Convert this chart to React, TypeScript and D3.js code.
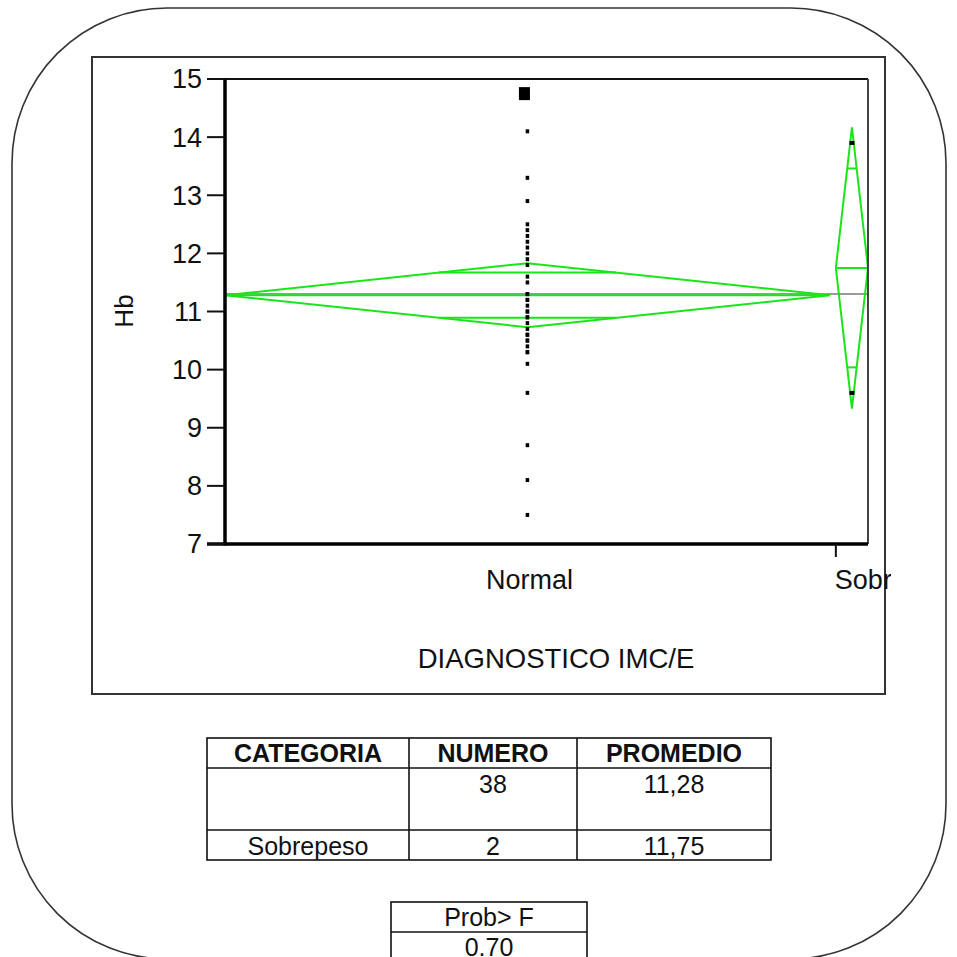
import React from "react";
import * as d3 from "d3";

// Hb by DIAGNOSTICO IMC/E
const categories = ["Normal", "Sobrepeso"];
const counts = [38, 2];
const means = [11.28, 11.75];
const ciLower = [10.73, 9.33];
const ciUpper = [11.83, 14.17];
const grandMean = 11.3;
const hbNormal = [
  14.8, 14.7, 14.1, 13.3, 12.9, 12.5, 12.4, 12.3, 12.2, 12.1, 12.0, 11.9, 11.8,
  11.6, 11.5, 11.3, 11.3, 11.2, 11.2, 11.1, 11.0, 11.0, 10.9, 10.9, 10.8, 10.7,
  10.6, 10.6, 10.5, 10.5, 10.4, 10.3, 10.3, 10.1, 9.6, 8.7, 8.1, 7.5,
];
const hbSobrepeso = [13.9, 9.6];
const yTicks = [7, 8, 9, 10, 11, 12, 13, 14, 15];
const tableHeaders = ["CATEGORIA", "NUMERO", "PROMEDIO"];
const tableCategories = ["", "Sobrepeso"];
const probHeader = "Prob> F";
const probValue = "0.70";

const GREEN = "#19e619";
const FONT = "'Liberation Sans', Arial, sans-serif";

export default function App() {
  const W = 957;
  const H = 957;
  const left = 225;
  const right = 868;
  const top = 79;
  const bottom = 544;

  const y = d3.scaleLinear().domain([7, 15]).range([bottom, top]);
  const total = d3.sum(counts);
  const x = d3.scaleLinear().domain([0, total]).range([left, right]);
  const starts = counts.map((_, i) => d3.sum(counts.slice(0, i)));
  const groups = [hbNormal, hbSobrepeso];
  const maxNormal = d3.max(hbNormal) as number;
  const fmt = (v: number) => v.toFixed(2).replace(".", ",");

  const diamonds = categories.map((c, i) => {
    const x0 = x(starts[i]);
    const x1 = x(starts[i] + counts[i]) - (i === 0 ? 6 : 0);
    const xc = (x0 + x1) / 2;
    const half = (x1 - x0) / 2;
    const m = means[i];
    const hu = ciUpper[i] - m;
    const hl = m - ciLower[i];
    const k = Math.SQRT1_2;
    const path = d3.line()([
      [x0, y(m)],
      [xc, y(ciUpper[i])],
      [x1, y(m)],
      [xc, y(ciLower[i])],
      [x0, y(m)],
    ]) as string;
    const ovU = m + hu * k;
    const ovL = m - hl * k;
    const w = half * (1 - k);
    return { c, i, x0, x1, xc, m, path, ovU, ovL, w };
  });

  // Table geometry
  const tX = [207, 409, 577, 771];
  const tY = [738, 768, 830, 860];

  return (
    <svg
      width={W}
      height={H}
      style={{ position: "absolute", left: 0, top: 0, background: "#fff" }}
      fontFamily={FONT}
    >
      <defs>
        <clipPath id="plotClip">
          <rect x={left} y={top} width={right - left} height={bottom - top} />
        </clipPath>
        <clipPath id="labelClip">
          <rect x={0} y={0} width={891} height={H} />
        </clipPath>
      </defs>
      <rect x={0} y={0} width={W} height={H} fill="#fff" />
      {/* rounded page outline */}
      <rect
        x={12}
        y={8}
        width={934}
        height={951}
        rx={155}
        ry={155}
        fill="none"
        stroke="#333"
        strokeWidth={1.6}
      />
      {/* report frame */}
      <rect x={92} y={57} width={793} height={637} fill="none" stroke="#333" strokeWidth={2} />

      {/* plot */}
      <g clipPath="url(#plotClip)">
        <line x1={left} x2={right} y1={y(grandMean)} y2={y(grandMean)} stroke="#9a9a9a" strokeWidth={2} />
        {diamonds.map((d) => (
          <g key={d.c} fill="none" stroke={GREEN} strokeWidth={2}>
            <path d={d.path} />
            <line x1={d.x0} x2={d.x1} y1={y(d.m)} y2={y(d.m)} />
            <line x1={d.xc - d.w} x2={d.xc + d.w} y1={y(d.ovU)} y2={y(d.ovU)} />
            <line x1={d.xc - d.w} x2={d.xc + d.w} y1={y(d.ovL)} y2={y(d.ovL)} />
          </g>
        ))}
        {groups.map((vals, gi) => {
          const xc = diamonds[gi].xc;
          return vals.map((v, j) => {
            const big = gi === 0 && v === maxNormal;
            const w = big ? 11 : gi === 0 ? 3.5 : 5;
            const h = big ? 13 : 4;
            return (
              <rect
                key={`${gi}-${j}`}
                x={xc - w / 2 - (big ? 3 : 0)}
                y={y(v) - h / 2 + (big ? 3 : 0)}
                width={w}
                height={h}
                fill="#000"
              />
            );
          });
        })}
      </g>

      {/* frame of plot */}
      <line x1={207} x2={right} y1={top} y2={top} stroke="#111" strokeWidth={2} />
      <line x1={right} x2={right} y1={top} y2={bottom} stroke="#444" strokeWidth={2} />
      <line x1={207} x2={right} y1={bottom} y2={bottom} stroke="#000" strokeWidth={3.5} />
      <line x1={left} x2={left} y1={top} y2={bottom + 1.5} stroke="#000" strokeWidth={3.5} />

      {/* y axis */}
      {yTicks.map((t) => (
        <g key={t}>
          <line x1={207} x2={left} y1={y(t)} y2={y(t)} stroke="#111" strokeWidth={2} />
          <text x={202} y={y(t)} dy="0.35em" textAnchor="end" fontSize={27} fill="#111">
            {t}
          </text>
        </g>
      ))}
      <text
        transform={`translate(133,311) rotate(-90)`}
        textAnchor="middle"
        fontSize={26}
        fill="#111"
      >
        Hb
      </text>

      {/* x axis */}
      <line x1={x(starts[1])} x2={x(starts[1])} y1={bottom} y2={bottom + 13} stroke="#111" strokeWidth={2} />
      <text x={diamonds[0].xc + 2} y={589} textAnchor="middle" fontSize={27} fill="#111">
        {categories[0]}
      </text>
      <g clipPath="url(#labelClip)">
        <text x={x(starts[1]) - 1} y={589} textAnchor="start" fontSize={27} fill="#111">
          {categories[1]}
        </text>
      </g>
      <text x={556} y={668} textAnchor="middle" fontSize={27.5} fill="#111">
        DIAGNOSTICO IMC/E
      </text>

      {/* summary table */}
      <g stroke="#111" strokeWidth={1.6} fill="none">
        <rect x={tX[0]} y={tY[0]} width={tX[3] - tX[0]} height={tY[3] - tY[0]} />
        {tY.slice(1, 3).map((v) => (
          <line key={v} x1={tX[0]} x2={tX[3]} y1={v} y2={v} />
        ))}
        {tX.slice(1, 3).map((v) => (
          <line key={v} x1={v} x2={v} y1={tY[0]} y2={tY[3]} />
        ))}
      </g>
      {tableHeaders.map((h, i) => (
        <text
          key={h}
          x={(tX[i] + tX[i + 1]) / 2}
          y={762}
          textAnchor="middle"
          fontSize={25}
          fontWeight="bold"
          fill="#111"
        >
          {h}
        </text>
      ))}
      {categories.map((c, i) => {
        const yy = i === 0 ? 793 : 855;
        return (
          <g key={c} fontSize={25} fill="#111" textAnchor="middle">
            <text x={(tX[0] + tX[1]) / 2}>
              <tspan y={yy}>{tableCategories[i]}</tspan>
            </text>
            <text x={(tX[1] + tX[2]) / 2} y={yy}>
              {counts[i]}
            </text>
            <text x={(tX[2] + tX[3]) / 2} y={yy}>
              {fmt(means[i])}
            </text>
          </g>
        );
      })}

      {/* probability table */}
      <g stroke="#111" strokeWidth={1.6} fill="none">
        <rect x={391} y={902} width={196} height={80} />
        <line x1={391} x2={587} y1={932} y2={932} />
      </g>
      <text x={489} y={926} textAnchor="middle" fontSize={25} fill="#111">
        {probHeader}
      </text>
      <text x={489} y={956} textAnchor="middle" fontSize={25} fill="#111">
        {probValue}
      </text>
    </svg>
  );
}
